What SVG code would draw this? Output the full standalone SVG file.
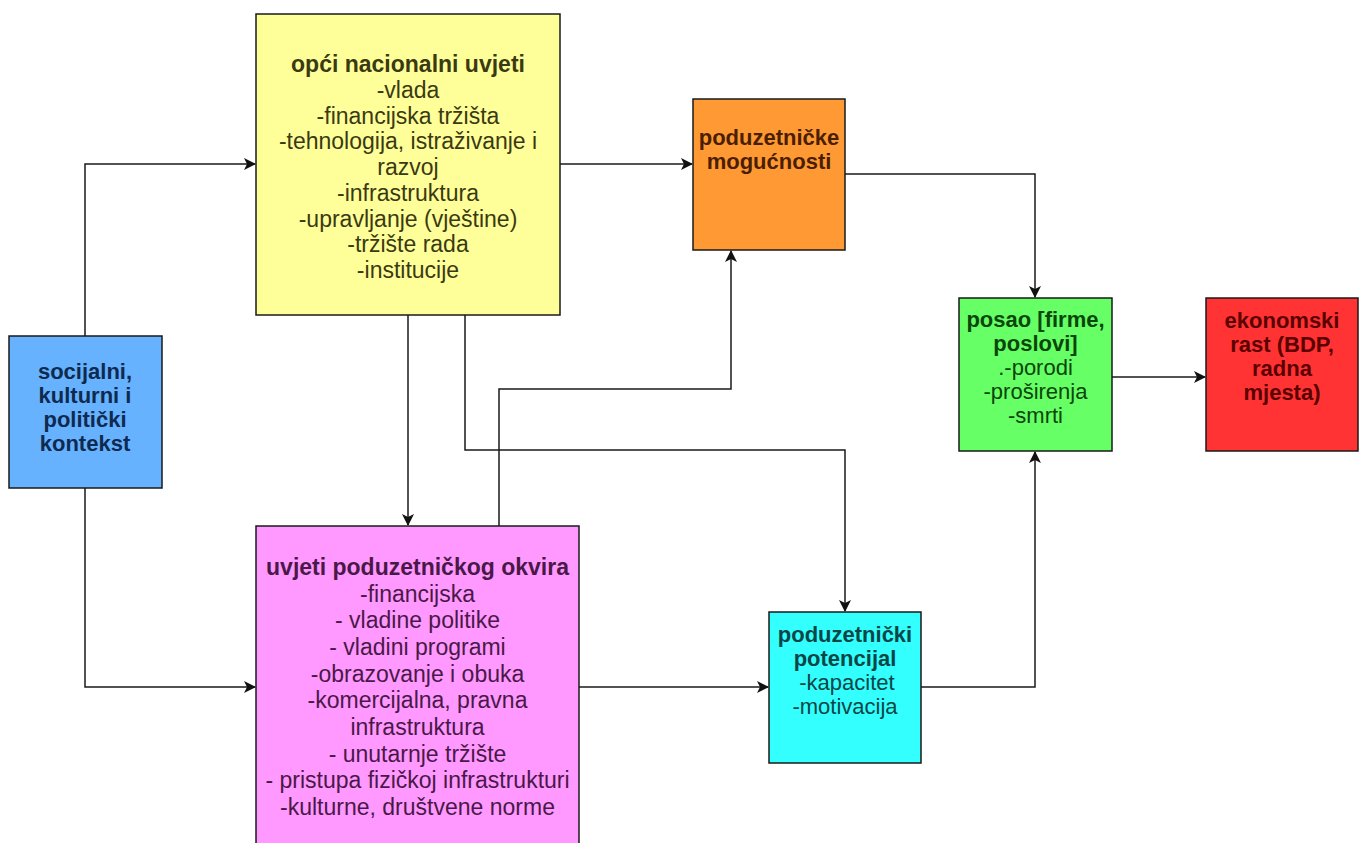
<svg xmlns="http://www.w3.org/2000/svg" width="1363" height="843" viewBox="0 0 1363 843">
<defs>
<marker id="arr" viewBox="0 0 12 12" refX="11" refY="6" markerWidth="12" markerHeight="12" markerUnits="userSpaceOnUse" orient="auto">
<path d="M0,0 L12,6 L0,12 L3,6 z" fill="#111"/>
</marker>
<style>
.box{stroke:#1a1a1a;stroke-width:1.5}
.t{font-family:"Liberation Sans",Arial,sans-serif;font-size:23px;text-anchor:middle}
.s{font-size:22px}
.b{font-weight:bold}
.c{fill:none;stroke:#1a1a1a;stroke-width:1.5;marker-end:url(#arr)}
</style>
</defs>
<rect width="1363" height="843" fill="#ffffff"/>
<g id="connectors">
<path class="c" d="M85,336 V164 H255"/>
<path class="c" d="M85,488 V687 H255"/>
<path class="c" d="M560,164 H692"/>
<path class="c" d="M408,315 V525"/>
<path class="c" d="M465,315 V450 H845 V611"/>
<path class="c" d="M499,526 V389 H731 V251"/>
<path class="c" d="M845,174 H1035 V297"/>
<path class="c" d="M579,687 H768"/>
<path class="c" d="M921,687 H1035 V452"/>
<path class="c" d="M1112,377 H1205"/>
</g>
<g id="node-socijalni">
<rect class="box" x="9" y="336" width="153" height="152" fill="#66B2FF"/>
<text class="t s b" fill="#0f2a4f"><tspan x="85" y="379">socijalni,</tspan><tspan x="85" y="403">kulturni i</tspan><tspan x="85" y="427">politički</tspan><tspan x="85" y="451">kontekst</tspan></text>
</g>
<g id="node-opci">
<rect class="box" x="256" y="14" width="304" height="301" fill="#FFFF99"/>
<text class="t" fill="#3a3a12"><tspan class="b" x="408" y="72">opći nacionalni uvjeti</tspan><tspan x="408" y="97.8">-vlada</tspan><tspan x="408" y="123.5">-financijska tržišta</tspan><tspan x="408" y="149.3">-tehnologija, istraživanje i</tspan><tspan x="408" y="175">razvoj</tspan><tspan x="408" y="200.8">-infrastruktura</tspan><tspan x="408" y="226.5">-upravljanje (vještine)</tspan><tspan x="408" y="252.3">-tržište rada</tspan><tspan x="408" y="278">-institucije</tspan></text>
</g>
<g id="node-okvir">
<rect class="box" x="256" y="526" width="323" height="330" fill="#FF99FF"/>
<text class="t" fill="#4a1848"><tspan class="b" x="417.5" y="575">uvjeti poduzetničkog okvira</tspan><tspan x="417.5" y="601.7">-financijska</tspan><tspan x="417.5" y="628.3">- vladine politike</tspan><tspan x="417.5" y="655">- vladini programi</tspan><tspan x="417.5" y="681.7">-obrazovanje i obuka</tspan><tspan x="417.5" y="708.3">-komercijalna, pravna</tspan><tspan x="417.5" y="735">infrastruktura</tspan><tspan x="417.5" y="761.7">- unutarnje tržište</tspan><tspan x="417.5" y="788.3">- pristupa fizičkoj infrastrukturi</tspan><tspan x="417.5" y="815">-kulturne, društvene norme</tspan></text>
</g>
<g id="node-mogucnosti">
<rect class="box" x="693" y="99" width="152" height="151" fill="#FF9933"/>
<text class="t s b" fill="#4a1e00"><tspan x="769" y="145">poduzetničke</tspan><tspan x="769" y="169">mogućnosti</tspan></text>
</g>
<g id="node-potencijal">
<rect class="box" x="769" y="612" width="152" height="151" fill="#33FFFF"/>
<text class="t s" fill="#0a4646"><tspan class="b" x="845" y="642">poduzetnički</tspan><tspan class="b" x="845" y="666">potencijal</tspan><tspan x="847" y="690">-kapacitet</tspan><tspan x="845" y="714">-motivacija</tspan></text>
</g>
<g id="node-posao">
<rect class="box" x="959" y="298" width="153" height="153" fill="#66FF66"/>
<text class="t s" fill="#0a460a"><tspan class="b" x="1035.5" y="327">posao [firme,</tspan><tspan class="b" x="1035.5" y="351">poslovi]</tspan><tspan x="1035.5" y="375">.-porodi</tspan><tspan x="1035.5" y="399">-proširenja</tspan><tspan x="1035.5" y="423">-smrti</tspan></text>
</g>
<g id="node-rast">
<rect class="box" x="1206" y="298" width="152" height="153" fill="#FF3333"/>
<text class="t s b" fill="#5a0000"><tspan x="1282" y="328">ekonomski</tspan><tspan x="1282" y="352">rast (BDP,</tspan><tspan x="1282" y="376">radna</tspan><tspan x="1282" y="400">mjesta)</tspan></text>
</g>
</svg>
